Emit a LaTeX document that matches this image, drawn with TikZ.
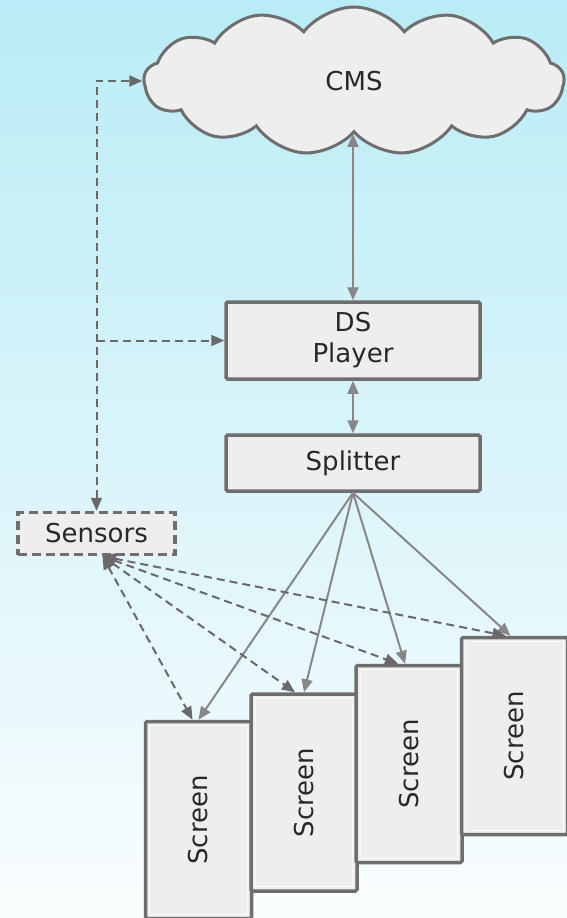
\documentclass[tikz,border=0pt]{standalone}
\usepackage{fontspec}
\setmainfont{DejaVu Sans}
\usetikzlibrary{shapes.symbols,arrows.meta}
\definecolor{bgtop}{RGB}{185,236,246}
\definecolor{bgbot}{RGB}{250,253,254}
\definecolor{boxline}{RGB}{110,110,110}
\definecolor{boxfill}{RGB}{238,238,238}
\definecolor{innerline}{RGB}{250,250,250}
\definecolor{arr}{RGB}{135,135,135}
\definecolor{darr}{RGB}{105,105,105}
\definecolor{txt}{RGB}{40,40,40}
\tikzset{
  boxstyle/.style={draw=boxline, line width=3.5pt, fill=boxfill, rounded corners=1.5pt,
    font=\fontsize{26}{31}\selectfont, text=txt, align=center, inner sep=0pt},
  screenbox/.style={boxstyle, minimum width=106pt, minimum height=197pt},
  screentext/.style={rotate=90, font=\fontsize{26}{31}\selectfont, text=txt},
  solidarrow/.style={draw=arr, line width=2pt, -{Triangle[length=13pt,width=11pt]}},
  dasharrow/.style={draw=darr, line width=2pt, dash pattern=on 8pt off 5pt,
    -{Triangle[length=13pt,width=11pt]}},
  both/.style={{Triangle[length=13pt,width=11pt]}-{Triangle[length=13pt,width=11pt]}},
}
\begin{document}
\begin{tikzpicture}[x=1pt,y=-1pt]
\shade[top color=bgtop, bottom color=bgbot] (0,0) rectangle (567,918);
\useasboundingbox (0,0) rectangle (567,918);

\node[cloud, cloud puffs=13, cloud puff arc=105, cloud ignores aspect,
  minimum width=420pt, minimum height=148pt, draw=boxline, line width=3pt, fill=boxfill,
  text=txt, font=\fontsize{26}{31}\selectfont] (cms) at (354,81) {CMS};

\node[boxstyle, minimum width=254pt, minimum height=77pt] (ds) at (353,340.5) {DS\\Player};
\node[boxstyle, minimum width=254pt, minimum height=56pt] (split) at (353,463) {Splitter};
\node[boxstyle, dash pattern=on 9pt off 5pt, rounded corners=0pt, minimum width=157pt, minimum height=42pt] (sens) at (96.5,533.5) {Sensors};

\node[screenbox] (s1) at (198.5,820) {};
\node[screenbox] (s2) at (304,792.5) {};
\node[screenbox] (s3) at (409,764) {};
\node[screenbox] (s4) at (514.5,736) {};
\foreach \s in {s1,s2,s3,s4}{
  \draw[innerline, line width=1pt] ([shift={(6pt,6pt)}]\s.south west) rectangle ([shift={(-6pt,-6pt)}]\s.north east);
}
\node[screentext] (t1) at (s1) {Screen};
\node[screentext] (t2) at (s2) {Screen};
\node[screentext] (t3) at (s3) {Screen};
\node[screentext] (t4) at (s4) {Screen};

% CMS <-> DS, DS <-> Splitter
\draw[solidarrow, both] (cms.south -| ds.north) -- (ds.north);
\draw[solidarrow, both] (ds.south) -- (split.north);

% Splitter -> screens
\coordinate (sp) at (split.south);
\draw[solidarrow] (sp) -- (s1.north);
\draw[solidarrow] (sp) -- (s2.north);
\draw[solidarrow] (sp) -- ([xshift=-4pt]s3.north);
\draw[solidarrow] (sp) -- ([xshift=-4pt]s4.north);

% Sensors <-> CMS, branch to DS
\coordinate (br) at (sens.north |- ds.west);
\draw[dasharrow, both] (sens.north) |- (cms.west);
\draw[dasharrow] (br) -- (ds.west);

% Sensors <-> screens
\coordinate (sa) at ([xshift=6pt]sens.south);
\draw[dasharrow, both] (sa) -- ([xshift=-6pt]s1.north);
\draw[dasharrow, both] (sa) -- ([xshift=-9pt]s2.north);
\draw[dasharrow, both] (sa) -- ([xshift=-11pt]s3.north);
\draw[dasharrow, both] (sa) -- ([xshift=-9pt]s4.north);
\end{tikzpicture}
\end{document}
